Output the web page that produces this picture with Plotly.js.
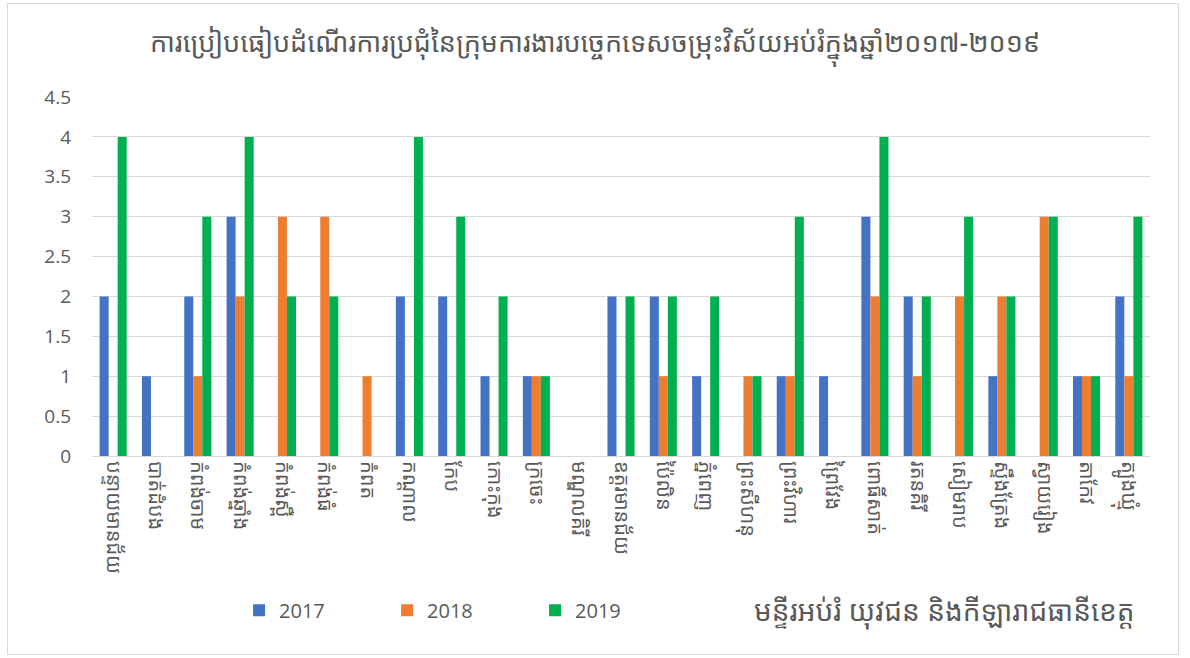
<!DOCTYPE html>
<html>
<head>
<meta charset="utf-8">
<script src="https://cdn.plot.ly/plotly-3.0.1.min.js"></script>
<style>
html,body{margin:0;padding:0;background:#fff;}
#wrap{position:relative;width:1190px;height:658px;}
#chart{width:1190px;height:658px;}
#frame{position:absolute;left:7px;top:3px;width:1172px;height:652px;border:1px solid #d9d9d9;pointer-events:none;box-sizing:border-box;}
</style>
</head>
<body>
<div id="wrap"><div id="chart"></div><div id="frame"></div></div>
<script>
const categories = ["បន្ទាយមានជ័យ","បាត់ដំបង","កំពង់ចាម","កំពង់ឆ្នាំង","កំពង់ស្ពឺ","កំពង់ធំ","កំពត","កណ្ដាល","កែប","កោះកុង","ក្រចេះ","មណ្ឌលគិរី","ឧត្ដរមានជ័យ","ប៉ៃលិន","ភ្នំពេញ","ព្រះសីហនុ","ព្រះវិហារ","ព្រៃវែង","ពោធិ៍សាត់","រតនគិរី","សៀមរាប","ស្ទឹងត្រែង","ស្វាយរៀង","តាកែវ","ត្បូងឃ្មុំ"];
const values2017 = [2,1,2,3,0,0,0,2,2,1,1,0,2,2,1,0,1,1,3,2,0,1,0,1,2];
const values2018 = [0,0,1,2,3,3,1,0,0,0,1,0,0,1,0,1,1,0,2,1,2,2,3,1,1];
const values2019 = [4,0,3,4,2,2,0,4,3,2,1,0,2,2,2,1,3,0,4,2,3,2,3,1,3];
const seriesNames = ["2017","2018","2019"];
const colors = ["#4472c4","#ed7d31","#00b050"];
const titleText = "ការប្រៀបធៀបដំណើរការប្រជុំនៃក្រុមការងារបច្ចេកទេសចម្រុះវិស័យអប់រំក្នុងឆ្នាំ២០១៧-២០១៩";
const sourceText = "មន្ទីរអប់រំ យុវជន និងកីឡារាជធានីខេត្ត";
const yTicks = [0,0.5,1,1.5,2,2.5,3,3.5,4,4.5];

const khmerFont = "'Noto Sans Khmer','Khmer OS System','Khmer OS','Noto Sans',sans-serif";
const latinFont = "'Open Sans','Noto Sans',sans-serif";

const allValues = [values2017, values2018, values2019];
const traces = allValues.map((v,i)=>({
  type:'bar', x:categories, y:v, name:seriesNames[i],
  marker:{color:colors[i]}, hoverinfo:'x+y+name'
}));

const layout = {
  width:1190, height:658,
  margin:{l:92, r:40, t:97, b:202},
  paper_bgcolor:'#fff', plot_bgcolor:'#fff',
  barmode:'group', bargap:0.36, bargroupgap:0,
  title:{text:titleText, x:0.5, xanchor:'center', y:0.935, yanchor:'middle',
    font:{family:khmerFont, size:27, color:'#595959'}},
  xaxis:{type:'category', tickangle:90, showgrid:false, zeroline:false,
    showline:true, linecolor:'#d9d9d9', linewidth:1, ticks:'',
    tickfont:{family:khmerFont, size:20, color:'#595959'}, automargin:false},
  yaxis:{range:[0,4.5], tickvals:yTicks, ticktext:yTicks.map(String),
    showgrid:true, gridcolor:'#d9d9d9', gridwidth:1, zeroline:false,
    showline:false, ticks:'', ticklen:0, ticklabelstandoff:20,
    tickfont:{family:latinFont, size:19, color:'#595959'}, automargin:false},
  showlegend:true,
  legend:{orientation:'h', x:0.139, xanchor:'left', y:-0.43, yanchor:'middle',
    font:{family:latinFont, size:20, color:'#595959'},
    entrywidth:103, entrywidthmode:'pixels', itemwidth:30,
    bgcolor:'rgba(0,0,0,0)'},
  annotations:[{text:sourceText, xref:'paper', yref:'paper', x:0.806, y:-0.43,
    xanchor:'center', yanchor:'middle', showarrow:false,
    font:{family:khmerFont, size:28, color:'#595959'}}]
};

Plotly.newPlot('chart', traces, layout, {displayModeBar:false, staticPlot:true});
</script>
</body>
</html>
